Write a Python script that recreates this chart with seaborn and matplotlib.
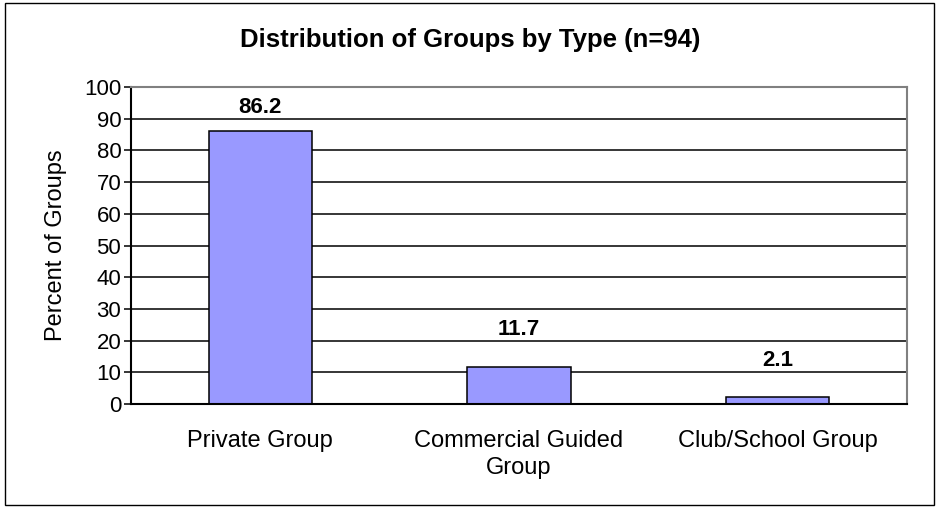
import matplotlib
matplotlib.use("Agg")
import matplotlib.pyplot as plt
import seaborn as sns
import pandas as pd
from matplotlib.patches import Rectangle

categories = ["Private Group", "Commercial Guided\nGroup", "Club/School Group"]
percents = [86.2, 11.7, 2.1]
y_ticks = list(range(0, 101, 10))

sns.set_style("white")
plt.rcParams["font.family"] = ["Liberation Sans", "DejaVu Sans"]
plt.rcParams["text.color"] = "black"
plt.rcParams["axes.labelcolor"] = "black"
plt.rcParams["xtick.color"] = "black"
plt.rcParams["ytick.color"] = "black"

df = pd.DataFrame({"type": categories, "pct": percents})

fig = plt.figure(figsize=(9.38, 5.08), dpi=100)
ax = fig.add_axes([131 / 938, 1 - 404 / 508, (907 - 131) / 938, (404 - 87) / 508])

# Horizontal gridlines behind the bars
for yv in y_ticks[1:-1]:
    ax.axhline(yv, color="black", linewidth=1.1, zorder=0)

sns.barplot(data=df, x="type", y="pct", color="#9999FF", width=0.4,
            edgecolor="black", linewidth=1.1, saturation=1, ax=ax, zorder=2)

# Value labels sit above each bar, kept inside the plot area near the top
for i, v in enumerate(percents):
    ax.text(i, min(v + 10, 91.8), f"{v:.1f}", ha="center", va="baseline",
            fontsize=16, fontweight="bold")

ax.set_xlim(-0.5, 2.5)
ax.set_ylim(0, 100)
ax.set_yticks(y_ticks)
ax.set_yticklabels([str(t) for t in y_ticks], fontsize=16)
ax.set_xticks(range(len(categories)))
ax.set_xticklabels(categories, fontsize=17, linespacing=1.25)
ax.set_xticks([-0.5, 0.5, 1.5, 2.5], minor=True)
ax.tick_params(axis="x", which="major", length=0, pad=19)
ax.tick_params(axis="x", which="minor", length=5, width=1.1, color="black", direction="out")
ax.tick_params(axis="y", length=5, width=1.1, color="black", direction="out", pad=2, left=True)
ax.set_xlabel("")
ax.set_ylabel("Percent of Groups", fontsize=17, labelpad=12)

for side in ["top", "right"]:
    ax.spines[side].set_color("#808080")
    ax.spines[side].set_linewidth(1.5)
for side in ["left", "bottom"]:
    ax.spines[side].set_color("black")
    ax.spines[side].set_linewidth(1.5)

fig.text(470 / 938, 1 - 47 / 508, "Distribution of Groups by Type (n=94)",
         ha="center", va="baseline", fontsize=18.5, fontweight="bold")

fig.patches.append(Rectangle((5 / 938, 3 / 508), 929 / 938, 502 / 508,
                             transform=fig.transFigure, fill=False,
                             edgecolor="black", linewidth=1.0))

fig.savefig("out.png", dpi=100, facecolor="white")
